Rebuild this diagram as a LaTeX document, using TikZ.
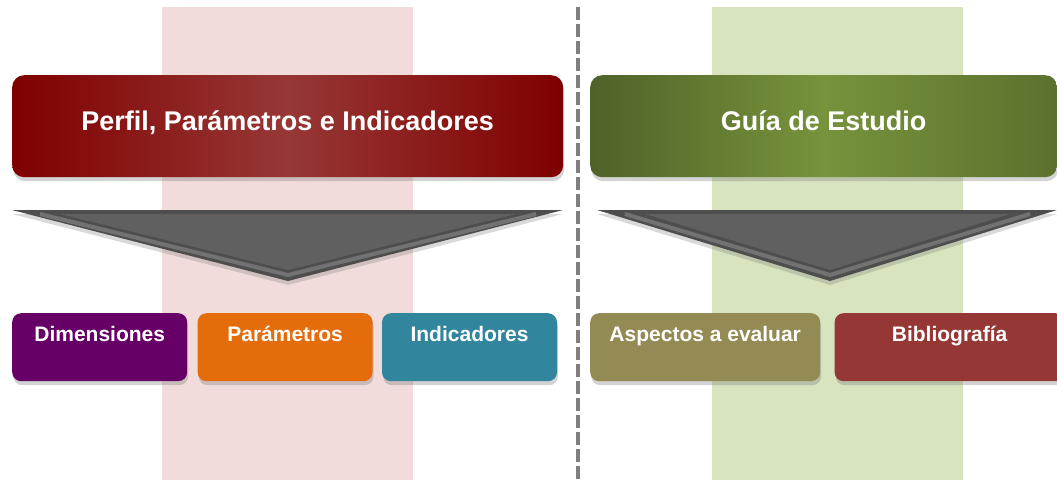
\documentclass[tikz,border=0pt]{standalone}
\usepackage{fontspec}
\setmainfont{Liberation Sans}
\usetikzlibrary{positioning, shadows}

\definecolor{bandpink}{HTML}{F2DCDB}
\definecolor{bandgreen}{HTML}{D7E4BD}
\definecolor{hdrred}{HTML}{7F0000}
\definecolor{hdrredlight}{HTML}{963836}
\definecolor{hdrgreen}{HTML}{4F6228}
\definecolor{hdrgreenlight}{HTML}{77933C}
\definecolor{dimpurple}{HTML}{660066}
\definecolor{parorange}{HTML}{E46C0A}
\definecolor{indteal}{HTML}{31859C}
\definecolor{aspolive}{HTML}{948A54}
\definecolor{bibred}{HTML}{953735}
\definecolor{sepgray}{HTML}{7F7F7F}
\definecolor{chevdark}{HTML}{4E4E4E}
\definecolor{chevbody}{HTML}{606060}
\definecolor{chevlight}{HTML}{A0A0A0}

\begin{document}
\begin{tikzpicture}[
  x=1pt, y=-1pt,
  node distance=10pt,
  header/.style={rectangle, rounded corners=12pt, anchor=north west, minimum height=102pt, inner sep=0pt, text=white, font=\bfseries\fontsize{27}{31}\selectfont, text height=55pt, text depth=47pt, drop shadow={shadow xshift=1pt, shadow yshift=-4pt, opacity=0.35}},
  item/.style={rectangle, rounded corners=9pt, minimum width=175pt, minimum height=68pt, inner sep=0pt, text=white, font=\bfseries\fontsize{21}{25}\selectfont, text height=28pt, text depth=40pt, drop shadow={shadow xshift=1pt, shadow yshift=-4pt, opacity=0.35}},
  chevron/.style={fill=chevdark, drop shadow={shadow xshift=0pt, shadow yshift=-4pt, opacity=0.3}},
  chevronrim/.style={chevlight, line width=4pt, line join=round, opacity=0.45},
  chevroninner/.style={fill=chevbody}
]
\useasboundingbox (0,0) rectangle (1057,480);

% Background bands
\fill[bandpink] (162,7) rectangle (413,480);
\fill[bandgreen] (712,7) rectangle (963,480);

% Separator
\coordinate (septop) at (578,7);
\coordinate (sepbot) at (578,480);
\draw[sepgray, line width=4pt, dash pattern=on 13pt off 4pt] (septop) -- (sepbot);

% Headers
\node[header, minimum width=551pt, left color=hdrred, right color=hdrred, middle color=hdrredlight] (perfil) at (12,75) {Perfil, Parámetros e Indicadores};
\node[header, minimum width=467pt, left color=hdrgreen, right color=hdrgreen!70!hdrgreenlight, middle color=hdrgreenlight] (guia) at (590,75) {Guía de Estudio};

% Down chevrons
\fill[chevron] (12,210) -- (563,210) -- (288,281) -- cycle;
\draw[chevronrim] (40,214) -- (288,275) -- (536,214);
\fill[chevroninner] (60,214) -- (516,214) -- (288,270) -- cycle;
\fill[chevron] (597,210) -- (1057,210) -- (830,281) -- cycle;
\draw[chevronrim] (625,214) -- (830,275) -- (1030,214);
\fill[chevroninner] (645,214) -- (1010,214) -- (830,270) -- cycle;

% Left column items
\node[item, fill=dimpurple, anchor=north west] (dim) at (12,313) {Dimensiones};
\node[item, fill=parorange, right=10pt of dim] (par) {Parámetros};
\node[item, fill=indteal, right=9pt of par] (ind) {Indicadores};

% Right column items
\node[item, fill=aspolive, minimum width=230pt, anchor=north west] (asp) at (590,313) {Aspectos a evaluar};
\node[item, fill=bibred, minimum width=230pt, right=14pt of asp] (bib) {Bibliografía};

\end{tikzpicture}
\end{document}
